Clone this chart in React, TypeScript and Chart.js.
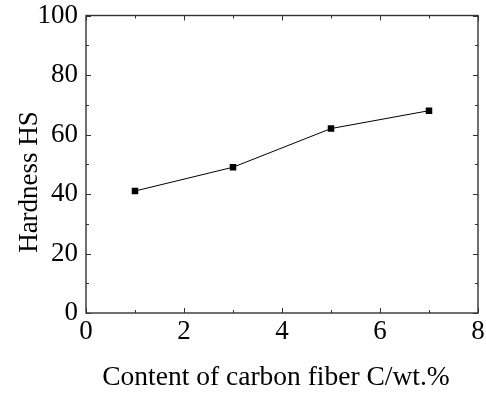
import React, { useEffect, useRef } from "react";
import { Chart, registerables } from "chart.js";

Chart.register(...registerables);

const xValues = [1, 3, 5, 7];
const hardness = [41, 49, 62, 68];
const xTicks = [0, 2, 4, 6, 8];
const yTicks = [0, 20, 40, 60, 80, 100];
const xTitle = "Content of carbon fiber C/wt.%";
const yTitle = "Hardness HS";

const FONT = "'Liberation Serif', 'Times New Roman', serif";

const frameTicks = {
  id: "frameTicks",
  afterDraw(chart: any) {
    const { ctx, chartArea: a, scales } = chart;
    const xs = scales.x;
    const ys = scales.y;
    ctx.save();
    ctx.strokeStyle = "#333";
    ctx.lineWidth = 1.4;
    ctx.strokeRect(a.left, a.top, a.right - a.left, a.bottom - a.top);
    ctx.lineWidth = 1;
    const major = 5;
    const minor = 3;
    for (let v = 0; v <= 8; v += 1) {
      const px = Math.round(xs.getPixelForValue(v)) + 0.5;
      const len = v % 2 === 0 ? major : minor;
      ctx.beginPath();
      ctx.moveTo(px, a.bottom);
      ctx.lineTo(px, a.bottom - len);
      ctx.moveTo(px, a.top);
      ctx.lineTo(px, a.top + len);
      ctx.stroke();
    }
    for (let v = 0; v <= 100; v += 10) {
      const py = Math.round(ys.getPixelForValue(v)) + 0.5;
      const len = v % 20 === 0 ? major : minor;
      ctx.beginPath();
      ctx.moveTo(a.left, py);
      ctx.lineTo(a.left + len, py);
      ctx.moveTo(a.right, py);
      ctx.lineTo(a.right - len, py);
      ctx.stroke();
    }
    // axis titles
    ctx.fillStyle = "#000";
    ctx.font = `27.5px ${FONT}`;
    ctx.textAlign = "center";
    ctx.textBaseline = "alphabetic";
    ctx.fillText(xTitle, 276, 385);
    ctx.font = `27px ${FONT}`;
    ctx.translate(36.5, 182);
    ctx.rotate(-Math.PI / 2);
    ctx.fillText(yTitle, 0, 0);
    ctx.restore();
  },
};

export default function App() {
  const ref = useRef<HTMLCanvasElement>(null);
  useEffect(() => {
    if (!ref.current) return;
    const chart = new Chart(ref.current, {
      type: "line",
      data: {
        datasets: [
          {
            data: xValues.map((x, i) => ({ x, y: hardness[i] })),
            borderColor: "#000",
            backgroundColor: "#000",
            borderWidth: 1,
            pointStyle: "rect",
            pointRadius: 4.6,
            pointBorderWidth: 0,
            tension: 0,
          },
        ],
      },
      options: {
        responsive: false,
        animation: false,
        layout: { padding: { left: 0, top: 15.5, right: 8, bottom: 0 } },
        plugins: { legend: { display: false }, tooltip: { enabled: false } },
        scales: {
          x: {
            type: "linear",
            min: 0,
            max: 8,
            afterBuildTicks: (s: any) => {
              s.ticks = xTicks.map((v) => ({ value: v }));
            },
            afterFit: (s: any) => {
              s.height = 81;
              s.paddingLeft = 0;
              s.paddingRight = 0;
            },
            grid: { display: false, drawTicks: false },
            border: { display: false },
            ticks: {
              padding: 3,
              color: "#000",
              font: { family: FONT, size: 27, lineHeight: 1.15 },
              maxRotation: 0,
            },
          },
          y: {
            type: "linear",
            min: 0,
            max: 100,
            afterBuildTicks: (s: any) => {
              s.ticks = yTicks.map((v) => ({ value: v }));
            },
            afterFit: (s: any) => {
              s.width = 86;
              s.paddingTop = 0;
              s.paddingBottom = 0;
            },
            grid: { display: false, drawTicks: false },
            border: { display: false },
            ticks: {
              padding: 8,
              color: "#000",
              font: { family: FONT, size: 27, lineHeight: 1.15 },
            },
          },
        },
      },
      plugins: [frameTicks],
    });
    return () => chart.destroy();
  }, []);
  return (
    <div style={{ position: "fixed", left: 0, top: 0, width: 486, height: 394, background: "#fff" }}>
      <canvas ref={ref} width={486} height={394} />
    </div>
  );
}
